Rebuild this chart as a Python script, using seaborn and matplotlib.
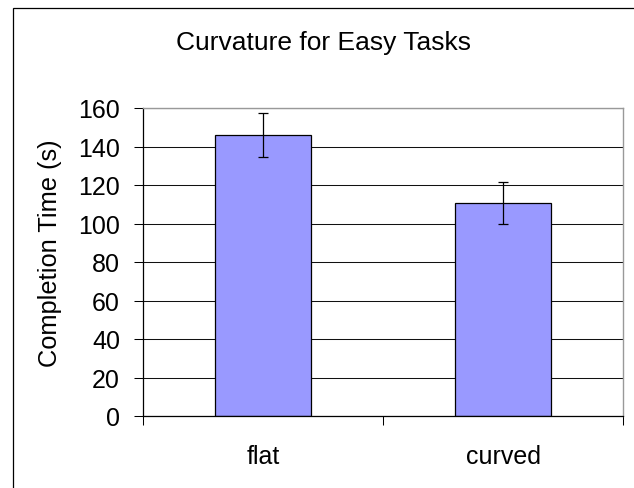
import numpy as np
import pandas as pd
import seaborn as sns
from matplotlib import pyplot as plt
from matplotlib.patches import Rectangle

# values
categories = ["flat", "curved"]
times = [146.1, 110.8]
errors = [11.3, 10.8]
y_ticks = [0, 20, 40, 60, 80, 100, 120, 140, 160]


def main():
    df = pd.DataFrame({"surface": categories, "time": times})

    sns.set_theme(style="white")
    plt.rcParams["font.family"] = ["Liberation Sans", "DejaVu Sans"]

    fig = plt.figure(figsize=(6.34, 4.89), dpi=100)
    W, H = 634, 489
    ax = fig.add_axes([143.3 / W, 1 - 417 / H, (623.3 - 143.3) / W, (417 - 109) / H])

    sns.barplot(
        data=df,
        x="surface",
        y="time",
        color="#9999ff",
        saturation=1,
        width=0.4,
        edgecolor="black",
        linewidth=0.9,
        errorbar=None,
        ax=ax,
    )
    ax.errorbar(
        np.arange(len(categories)),
        times,
        yerr=errors,
        fmt="none",
        ecolor="black",
        elinewidth=0.9,
        capsize=3.6,
        capthick=0.9,
    )

    ax.set_xlim(-0.5, len(categories) - 0.5)
    ax.set_ylim(0, 160)
    ax.set_yticks(y_ticks)
    ax.set_axisbelow(True)
    ax.yaxis.grid(True, color="#111111", linewidth=0.75)

    # x ticks sit between the categories, labels stay centred
    ax.set_xticks(np.arange(-0.5, len(categories)), minor=True)
    ax.tick_params(axis="x", which="major", length=0, pad=20, labelsize=18,
                   labelcolor="black")
    ax.tick_params(axis="x", which="minor", length=6.2, width=0.75, color="black",
                   direction="out", bottom=True)
    ax.tick_params(axis="y", length=6.2, width=0.75, color="black",
                   direction="out", left=True, pad=10.5, labelsize=18,
                   labelcolor="black")

    for side in ["left", "bottom"]:
        ax.spines[side].set_color("black")
        ax.spines[side].set_linewidth(0.9)
    for side in ["top", "right"]:
        ax.spines[side].set_color("#999999")
        ax.spines[side].set_linewidth(1.0)

    ax.set_xlabel("")
    ax.set_ylabel("Completion Time (s)", fontsize=18.3, color="black")
    ax.yaxis.set_label_coords(-0.169, (417 - 253.5) / 308)
    ax.set_title("Curvature for Easy Tasks", fontsize=19, color="black",
                 x=(323 - 143.3) / 480, y=1 + 59 / 308, pad=0)

    # outer chart frame, cut off at right and bottom like the reference
    fig.patches.append(Rectangle((12.5 / W, -0.1), 2, 1 - 8.5 / H + 0.1,
                                 transform=fig.transFigure, fill=False,
                                 edgecolor="black", linewidth=0.9))

    fig.savefig("out.png", dpi=100)


if __name__ == "__main__":
    main()
